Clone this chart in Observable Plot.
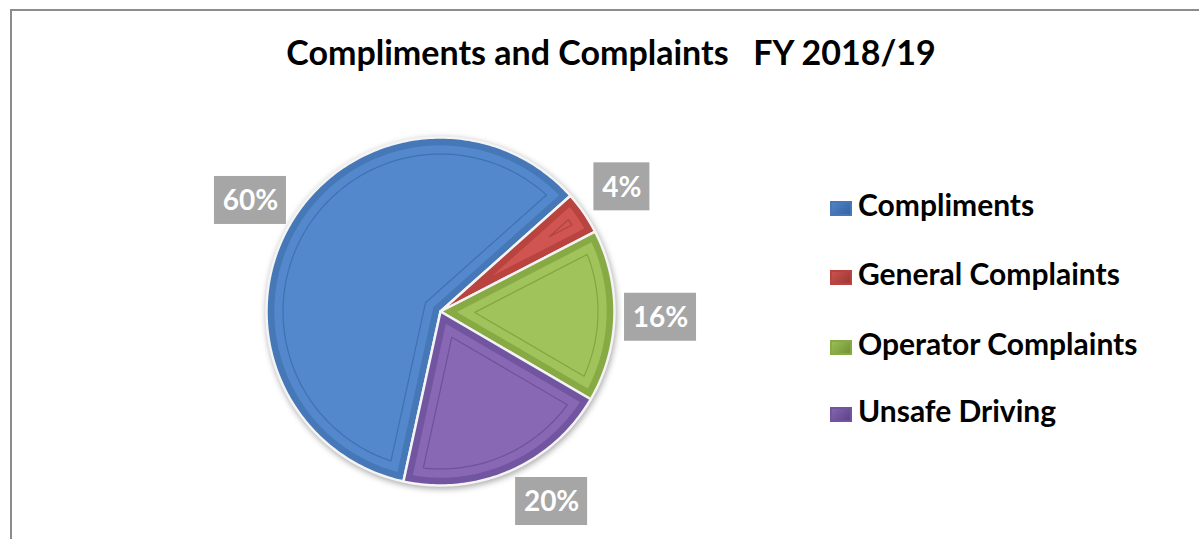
<!DOCTYPE html>
<html>
<head>
<meta charset="utf-8">
<script src="https://cdn.jsdelivr.net/npm/d3@7"></script>
<script src="https://cdn.jsdelivr.net/npm/@observablehq/plot@0.6"></script>
<style>
  html, body { margin: 0; padding: 0; background: #fff; overflow: hidden; }
  #wrap { position: relative; width: 1199px; height: 539px; overflow: hidden; font-family: Lato, "Open Sans", sans-serif; }
  #frame { position: absolute; left: 10px; top: 9px; width: 1300px; height: 700px; border: 2px solid #8c8c8c; box-sizing: border-box; }
  #title { position: absolute; left: 0; width: 1222px; top: 32px; text-align: center; font-weight: 700; font-size: 34px; line-height: 40px; white-space: pre; color: #000; }
  #chart { position: absolute; left: 0; top: 0; }
  .leg { position: absolute; left: 830px; font-weight: 700; font-size: 30px; line-height: 30px; white-space: nowrap; color: #000; }
  .leg .sw { display: inline-block; width: 22px; height: 15px; margin-right: 6px; vertical-align: 0; }
</style>
</head>
<body>
<div id="wrap">
  <div id="frame"></div>
  <div id="chart"></div>
  <div id="title">Compliments and Complaints   FY 2018/19</div>
  <div id="legend"></div>
</div>
<script>
// ---- data ----
const categories = ["Compliments", "General Complaints", "Operator Complaints", "Unsafe Driving"];
const values = [60, 4, 16, 20];
const valueLabels = ["60%", "4%", "16%", "20%"];
const colors = ["#5388cd", "#d05550", "#a0c45b", "#8868b4"];
const rimColors = ["#4677b6", "#b8433f", "#88aa45", "#7255a0"];
const lineColors = ["#2f5f9c", "#963431", "#6c8c30", "#583f84"];
const startAngleDeg = 192.3;

// ---- geometry (unit radius, angle clockwise from north) ----
const total = d3.sum(values);
const toRad = Math.PI / 180;
let acc = startAngleDeg * toRad;
const slices = values.map((v, i) => {
  const a0 = acc, a1 = acc + v / total * 2 * Math.PI;
  acc = a1;
  return {i, cat: categories[i], a0, a1, mid: (a0 + a1) / 2, label: valueLabels[i]};
});

function sector(s, inset, key) {
  const pts = [];
  const span = s.a1 - s.a0;
  const r = 1 - inset;
  const da = inset > 0 ? Math.asin(inset / r) : 0;
  const t = inset > 0 ? inset / Math.sin(span / 2) : 0;
  const apex = {x: t * Math.sin(s.mid), y: t * Math.cos(s.mid)};
  pts.push({key, i: s.i, ...apex});
  const b0 = s.a0 + da, b1 = s.a1 - da;
  const n = Math.max(8, Math.ceil((b1 - b0) / (Math.PI / 180)));
  for (let k = 0; k <= n; k++) {
    const a = b0 + (b1 - b0) * k / n;
    pts.push({key, i: s.i, x: r * Math.sin(a), y: r * Math.cos(a)});
  }
  pts.push({key, i: s.i, ...apex});
  return pts;
}

const outer = slices.flatMap(s => sector(s, 0, "o" + s.i));
const face = slices.flatMap(s => sector(s, 0.045, "f" + s.i));
const inner = slices.flatMap(s => sector(s, 0.095, "n" + s.i));

// label boxes: outside end, kept inside the chart area at the bottom
const pxPerUnit = 174;
const labelR = 1.265;
const maxDown = 1.092;
const labels = slices.map(s => {
  let a = s.mid;
  if (labelR * Math.cos(a) < -maxDown) {
    const base = Math.acos(-maxDown / labelR);
    a = Math.sin(a) >= 0 ? base : 2 * Math.PI - base;
  }
  const cx = labelR * Math.sin(a), cy = labelR * Math.cos(a);
  const w = (16 * s.label.length + 24) / 2 / pxPerUnit;
  const h = 24 / pxPerUnit;
  return {label: s.label, cx, cy, x1: cx - w, x2: cx + w, y1: cy - h, y2: cy + h};
});

const plot = Plot.plot({
  width: 1199,
  height: 539,
  margin: 0,
  style: {fontFamily: "Lato, 'Open Sans', sans-serif", background: "transparent"},
  x: {domain: [-1, 1], range: [266, 614], axis: null},
  y: {domain: [-1, 1], range: [485, 137], axis: null},
  marks: [
    Plot.line(outer, {x: "x", y: "y", z: "key", fill: d => rimColors[d.i], stroke: "#f4f4f4", strokeWidth: 2.5, strokeLinejoin: "round", curve: "linear"}),
    Plot.line(face, {x: "x", y: "y", z: "key", fill: d => colors[d.i], stroke: "none", curve: "linear"}),
    Plot.line(inner, {x: "x", y: "y", z: "key", fill: "none", stroke: d => lineColors[d.i], strokeOpacity: 0.55, strokeWidth: 1.2, curve: "linear"}),
    Plot.rect(labels, {x1: "x1", x2: "x2", y1: "y1", y2: "y2", fill: "#a6a6a6"}),
    Plot.text(labels, {x: "cx", y: "cy", text: "label", fill: "white", fontSize: 28, fontWeight: "bold", dy: 1})
  ]
});
d3.select(plot).select('g[aria-label="line"]').style("filter", "drop-shadow(1px 2px 3px rgba(0,0,0,0.35))");
document.getElementById("chart").appendChild(plot);

// legend
const legendTops = [189, 258, 328, 395];
const legend = document.getElementById("legend");
categories.forEach((c, i) => {
  const div = document.createElement("div");
  div.className = "leg";
  div.style.top = legendTops[i] + "px";
  div.innerHTML = `<span class="sw" style="background: linear-gradient(135deg, ${colors[i]}, ${lineColors[i]}); box-shadow: inset 0 0 0 2px ${rimColors[i]};"></span>${c}`;
  legend.appendChild(div);
});
</script>
</body>
</html>
